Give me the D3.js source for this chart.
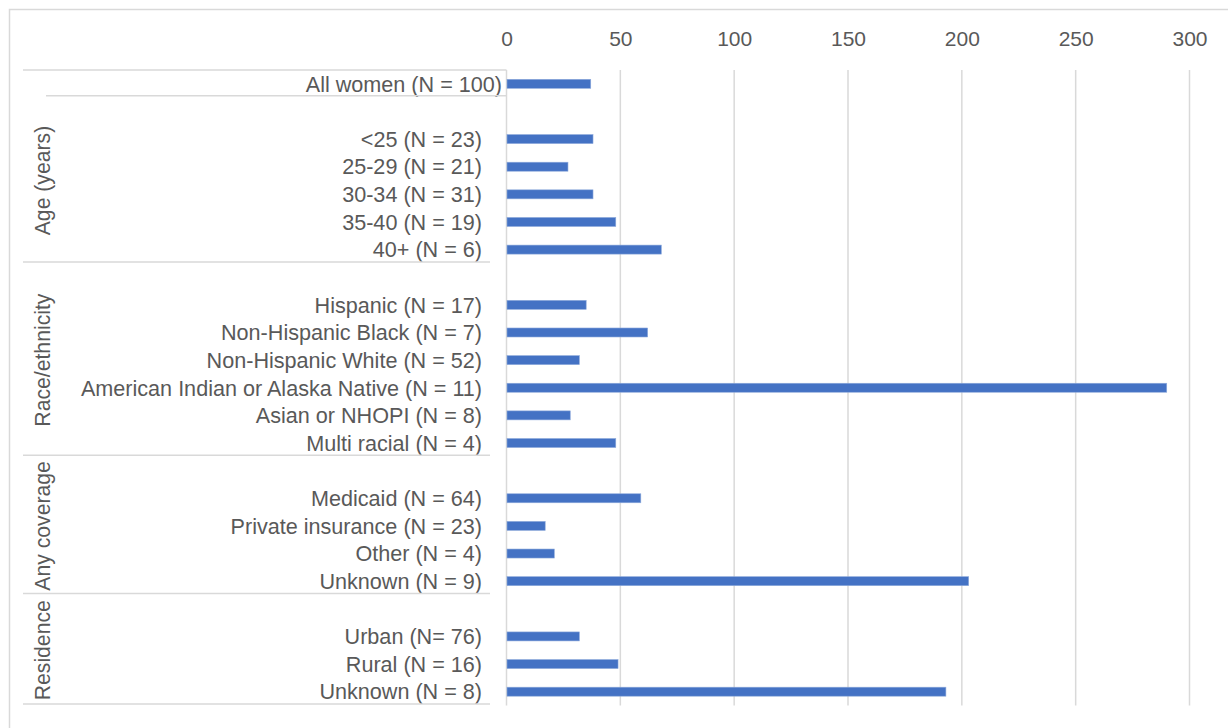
<!DOCTYPE html>
<html>
<head>
<meta charset="utf-8">
<script src="https://cdn.jsdelivr.net/npm/d3@7/dist/d3.min.js"></script>
<style>
  html, body { margin: 0; padding: 0; background: #fff; }
  svg { display: block; font-family: "Liberation Sans", Arial, sans-serif; }
</style>
</head>
<body>
<svg id="chart" width="1228" height="728"></svg>
<script>
// ---- data ----
const categories = [
  "All women (N = 100)",
  "", "<25 (N = 23)", "25-29 (N = 21)", "30-34 (N = 31)", "35-40 (N = 19)", "40+ (N = 6)",
  "", "Hispanic (N = 17)", "Non-Hispanic Black (N = 7)", "Non-Hispanic White (N = 52)",
  "American Indian or Alaska Native (N = 11)", "Asian or NHOPI (N = 8)", "Multi racial (N = 4)",
  "", "Medicaid (N = 64)", "Private insurance (N = 23)", "Other (N = 4)", "Unknown (N = 9)",
  "", "Urban (N= 76)", "Rural (N = 16)", "Unknown (N = 8)"
];
const values = [
  37,
  null, 38, 27, 38, 48, 68,
  null, 35, 62, 32, 290, 28, 48,
  null, 59, 17, 21, 203,
  null, 32, 49, 193
];
const groupNames = ["Age (years)", "Race/ethnicity", "Any coverage", "Residence"];
const groupFirst = [1, 7, 14, 19];
const groupLast  = [6, 13, 18, 22];
const tickValues = [0, 50, 100, 150, 200, 250, 300];

// ---- layout ----
const svg = d3.select("#chart");
const W = 1228, H = 728;
const plot = { left: 506.5, right: 1189.5, top: 70, bottom: 705.5 };
const textColor = "#595959", lineColor = "#d9d9d9", barColor = "#4472C4";
const fontSize = 21.6;

// outer chart border
svg.append("rect")
  .attr("x", 9.5).attr("y", 9.5).attr("width", W + 20).attr("height", H + 20)
  .attr("fill", "none").attr("stroke", lineColor).attr("stroke-width", 1.5);

const x = d3.scaleLinear().domain([0, 300]).range([plot.left, plot.right]);
const idx = d3.range(categories.length);
const y = d3.scaleBand().domain(idx).range([plot.top, plot.bottom]).paddingInner(0).paddingOuter(0);
const bw = y.bandwidth();
const barH = 9;

// gridlines
svg.append("g").selectAll("line").data(tickValues).join("line")
  .attr("x1", d => x(d)).attr("x2", d => x(d))
  .attr("y1", plot.top).attr("y2", plot.bottom)
  .attr("stroke", lineColor).attr("stroke-width", 1.5);

// top axis tick labels
const axis = d3.axisTop(x).tickValues(tickValues).tickSize(0).tickPadding(0);
const gAxis = svg.append("g").attr("transform", `translate(0,46)`).call(axis);
gAxis.select(".domain").remove();
gAxis.selectAll("text")
  .attr("fill", textColor).attr("font-size", 21)
  .attr("font-family", "'Liberation Sans', Arial, sans-serif")
  .attr("dy", "0");

// bars
svg.append("g").selectAll("rect").data(idx.filter(i => values[i] != null)).join("rect")
  .attr("x", x(0) + 0.5)
  .attr("y", i => y(i) + bw / 2 - barH / 2)
  .attr("width", i => x(values[i]) - x(0) - 0.5)
  .attr("height", barH)
  .attr("fill", barColor)
  .attr("stroke", "#8eaadb").attr("stroke-width", 0.6);

// category labels
svg.append("g").selectAll("text").data(idx.filter(i => categories[i] !== "")).join("text")
  .attr("x", i => i === 0 ? 502 : 482)
  .attr("y", i => y(i) + bw / 2)
  .attr("dy", "0.36em")
  .attr("text-anchor", "end")
  .attr("fill", textColor).attr("font-size", fontSize)
  .text(i => categories[i]);

// category axis separator lines
const sep = svg.append("g").attr("stroke", lineColor).attr("stroke-width", 1.5);
sep.append("line").attr("x1", 23).attr("x2", x(0)).attr("y1", plot.top).attr("y2", plot.top);
sep.append("line").attr("x1", 46).attr("x2", x(0)).attr("y1", y(0) + bw - 2).attr("y2", y(0) + bw - 2);
groupLast.forEach(l => {
  const yy = y(l) + bw - 1.5;
  sep.append("line").attr("x1", 23).attr("x2", 490).attr("y1", yy).attr("y2", yy);
});

// group labels (rotated)
groupNames.forEach((g, k) => {
  const cy = (y(groupFirst[k]) + y(groupLast[k]) + bw) / 2;
  svg.append("text")
    .attr("transform", `translate(42,${cy}) rotate(-90)`)
    .attr("text-anchor", "middle").attr("dy", "0.36em")
    .attr("fill", textColor).attr("font-size", 21.2)
    .text(g);
});
</script>
</body>
</html>
